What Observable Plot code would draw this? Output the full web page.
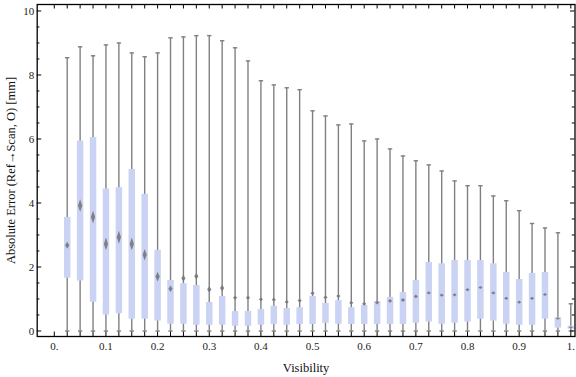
<!DOCTYPE html>
<html><head><meta charset="utf-8">
<script src="https://cdn.jsdelivr.net/npm/d3@7"></script>
<script src="https://cdn.jsdelivr.net/npm/@observablehq/plot@0.6"></script>
<style>body{margin:0;background:#fff}svg{display:block}</style>
</head><body><div id="chart"></div>
<script>
// ---- data ----
const visibility = [0.025,0.05,0.075,0.1,0.125,0.15,0.175,0.2,0.225,0.25,0.275,0.3,0.325,0.35,0.375,0.4,0.425,0.45,0.475,0.5,
  0.525,0.55,0.575,0.6,0.625,0.65,0.675,0.7,0.725,0.75,0.775,0.8,0.825,0.85,0.875,0.9,0.925,0.95,0.975,1.0];
const whiskerMin = [0,0,0,0,0,0,0,0,0,0,0,0,0,0,0,0,0,0,0,0,0,0,0,0,0,0,0,0,0,0,0,0,0,0,0,0,0,0,0,0];
const whiskerMax = [8.54,8.88,8.6,8.94,9.0,8.69,8.57,8.69,9.16,9.19,9.23,9.23,9.07,8.85,8.44,7.82,7.69,7.6,7.54,6.88,
  6.72,6.44,6.47,5.94,6.0,5.69,5.47,5.32,5.19,5.0,4.69,4.54,4.54,4.22,4.07,3.76,3.36,3.22,3.07,0.85];
const quartile1 = [1.65,1.56,0.9,0.5,0.54,0.37,0.37,0.31,0.21,0.21,0.18,0.18,0.18,0.15,0.15,0.18,0.2,0.18,0.2,0.2,
  0.24,0.21,0.2,0.2,0.2,0.2,0.2,0.24,0.28,0.21,0.24,0.28,0.37,0.31,0.21,0.18,0.18,0.37,0.09,0.06];
const quartile3 = [3.55,5.94,6.05,4.44,4.48,5.05,4.27,2.52,1.58,1.48,1.42,0.89,1.08,0.61,0.61,0.67,0.77,0.7,0.73,1.08,
  0.86,0.95,0.73,0.8,0.92,1.05,1.2,1.58,2.14,2.1,2.2,2.2,2.2,2.1,1.83,1.61,1.8,1.83,0.42,0.15];
const median = [2.68,3.92,3.56,2.72,2.93,2.72,2.38,1.7,1.32,1.65,1.71,1.3,1.34,1.04,1.04,0.99,0.98,0.91,0.95,1.18,
  1.05,1.09,0.88,0.85,0.89,0.94,0.97,1.08,1.19,1.12,1.13,1.29,1.36,1.19,1.02,0.9,1.02,1.14,0.39,0.11];
// half-height of the median notch (confidence interval), in mm
const medianNotch = [0.11,0.2,0.2,0.2,0.2,0.2,0.18,0.15,0.1,0.1,0.1,0.1,0.1,0.06,0.06,0.06,0.06,0.06,0.06,0.06,
  0.06,0.06,0.06,0.06,0.06,0.06,0.06,0.06,0.05,0.05,0.05,0.05,0.05,0.05,0.05,0.05,0.05,0.05,0.04,0.04];
const xTickValues = [0,0.1,0.2,0.3,0.4,0.5,0.6,0.7,0.8,0.9,1];
const xTickLabels = ["0.","0.1","0.2","0.3","0.4","0.5","0.6","0.7","0.8","0.9","1."];
const yTickValues = [0,2,4,6,8,10];
const yTickLabels = ["0","2","4","6","8","10"];
const xLabel = "Visibility";
const yLabel = "Absolute Error (Ref\u2192Scan, O) [mm]";

// ---- layout ----
const W = 576, H = 377;
const mL = 36.7, mR = 1.5, mT = 4, mB = 41;
const xDomain = [-0.0331, 1.0081];
const yDomain = [-0.172, 10.203];
const innerW = W - mL - mR, innerH = H - mT - mB;
const pxPerMM = innerH / (yDomain[1] - yDomain[0]);

const rows = visibility.map((v, i) => ({
  v, lo: whiskerMin[i], hi: whiskerMax[i], q1: quartile1[i], q3: quartile3[i],
  med: median[i], notch: medianNotch[i]
}));

const xMinor = d3.range(0, 41).map(i => i * 0.025);
const yMinor = d3.range(0, 21).map(i => i * 0.5).filter(v => v % 2 !== 0);

const capSymbol = {draw(ctx) { ctx.moveTo(-2.2, 0); ctx.lineTo(2.2, 0); }};
const diamondSymbol = {draw(ctx, size) {
  const r = Math.sqrt(size / Math.PI);
  ctx.moveTo(0, -r); ctx.lineTo(2.1, 0); ctx.lineTo(0, r); ctx.lineTo(-2.1, 0); ctx.closePath();
}};

const gray = "#808080";
const chart = Plot.plot({
  width: W, height: H,
  marginLeft: mL, marginRight: mR, marginTop: mT, marginBottom: mB,
  style: {fontFamily: "'Liberation Serif', 'Times New Roman', serif", fontSize: "11px", color: "#222", background: "#fff"},
  x: {domain: xDomain, axis: null},
  y: {domain: yDomain, axis: null},
  r: {type: "identity"},
  marks: [
    // whiskers
    Plot.ruleX(rows, {x: "v", y1: "lo", y2: "hi", stroke: gray, strokeWidth: 1.4}),
    Plot.dot(rows, {x: "v", y: "hi", symbol: capSymbol, stroke: gray, strokeWidth: 1.4, fill: "none"}),
    Plot.dot(rows, {x: "v", y: "lo", symbol: capSymbol, stroke: gray, strokeWidth: 1.4, fill: "none"}),
    // boxes
    Plot.ruleX(rows, {x: "v", y1: "q1", y2: "q3", stroke: "#cbd3f4", strokeWidth: 6.5}),
    // medians
    Plot.dot(rows, {x: "v", y: "med", r: d => d.notch * pxPerMM, symbol: diamondSymbol, fill: "#777", fillOpacity: 0.9, stroke: "none"}),
    // ticks (inside the frame)
    Plot.tickX(xMinor, {x: d => d, stroke: "#000", strokeWidth: 1, insetTop: innerH - 4.5}),
    Plot.tickX(xMinor, {x: d => d, stroke: "#000", strokeWidth: 1, insetBottom: innerH - 4.5}),
    Plot.tickY(yTickValues, {y: d => d, stroke: "#000", strokeWidth: 1, insetRight: innerW - 4.5}),
    Plot.tickY(yTickValues, {y: d => d, stroke: "#000", strokeWidth: 1, insetLeft: innerW - 4.5}),
    Plot.tickY(yMinor, {y: d => d, stroke: "#000", strokeWidth: 1, insetRight: innerW - 2.7}),
    Plot.tickY(yMinor, {y: d => d, stroke: "#000", strokeWidth: 1, insetLeft: innerW - 2.7}),
    Plot.frame({stroke: "#000", strokeWidth: 1.3}),
    // tick labels
    Plot.axisX({ticks: xTickValues, tickSize: 0, tickPadding: 6, tickFormat: (d, i) => xTickLabels[i], label: null}),
    Plot.axisY({ticks: yTickValues, tickSize: 0, tickPadding: 3, tickFormat: (d, i) => yTickLabels[i], label: null}),
    // axis titles
    Plot.text([xLabel], {text: d => d, frameAnchor: "bottom", dy: 35, fontSize: 12.5, fill: "#111"}),
    Plot.text([yLabel], {text: d => d, frameAnchor: "left", textAnchor: "middle", dx: -26, rotate: -90, fontSize: 12.5, fill: "#111"})
  ]
});
document.getElementById("chart").append(chart);
</script>
</body></html>
